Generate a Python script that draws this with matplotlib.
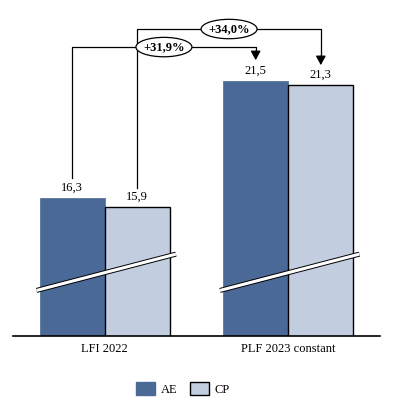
import matplotlib.pyplot as plt
from matplotlib.patches import Patch, Ellipse

# Data
categories = ["LFI 2022", "PLF 2023 constant"]
series_names = ["AE", "CP"]
ae_values = [16.3, 21.5]
cp_values = [15.9, 21.3]
growth_labels = ["+31,9%", "+34,0%"]

colors = {"AE": "#4a6996", "CP": "#c3cde0"}

plt.rcParams['font.family'] = ['Liberation Serif', 'DejaVu Serif']
fs = 9

fig = plt.figure(figsize=(3.95, 4.12), dpi=100)
W, H = 395, 412
ax = fig.add_axes([13 / W, (H - 336) / H, 367 / W, 316 / H])

width = 0.355
x = list(range(len(categories)))
x_ae = [xi - width / 2 for xi in x]
x_cp = [xi + width / 2 for xi in x]

ax.bar(x_ae, ae_values, width, color=colors["AE"], edgecolor=colors["AE"], linewidth=0.5, zorder=2)
ax.bar(x_cp, cp_values, width, color=colors["CP"], edgecolor="black", linewidth=1.0, zorder=2)

ax.set_xlim(-0.5, 1.5)
ax.set_ylim(10.18, 24.19)

# value labels
for xs, vals in ((x_ae, ae_values), (x_cp, cp_values)):
    for xi, v in zip(xs, vals):
        ax.annotate(f"{v:.1f}".replace(".", ","), (xi, v), xytext=(0, 3),
                    textcoords="offset points", ha="center", va="bottom", fontsize=fs)

# broken-axis stripes
for xi in x:
    xs = [xi - 0.372, xi + 0.388]
    ys = [12.20, 13.81]
    ax.plot(xs, ys, color="black", lw=3.6, solid_capstyle="butt", zorder=3, clip_on=False)
    ax.plot(xs, ys, color="white", lw=2.2, solid_capstyle="butt", zorder=4, clip_on=False)

# growth brackets
brackets = [
    (x_ae[0], x_ae[1], ae_values[0] + 0.88, 22.99, 22.41, growth_labels[0]),
    (x_cp[0], x_cp[1], cp_values[0] + 0.84, 23.79, 22.19, growth_labels[1]),
]
for x0, x1, y_start, y_top, y_tip, lab in brackets:
    ax.plot([x0, x0, x1, x1], [y_start, y_top, y_top, y_tip + 0.3],
            color="black", lw=0.9, zorder=5, clip_on=False)
    ax.annotate("", xy=(x1, y_tip), xytext=(x1, y_tip + 0.4),
                arrowprops=dict(arrowstyle="-|>,head_length=0.55,head_width=0.3",
                                color="black", lw=0.9, shrinkA=0, shrinkB=0), zorder=5)
    xm = (x0 + x1) / 2
    ax.add_patch(Ellipse((xm, y_top), 0.305, 0.86, facecolor="white",
                         edgecolor="black", lw=0.9, zorder=6, clip_on=False))
    ax.text(xm, y_top, lab, ha="center", va="center", fontsize=fs,
            fontweight="bold", zorder=7)

ax.set_xticks(x)
ax.set_xticklabels(categories, fontsize=fs)
ax.tick_params(axis="x", length=0, pad=5)
ax.set_yticks([])
for side in ("top", "right", "left"):
    ax.spines[side].set_visible(False)
ax.spines["bottom"].set_linewidth(1.2)

handles = [Patch(facecolor=colors["AE"], edgecolor=colors["AE"]),
           Patch(facecolor=colors["CP"], edgecolor="black", linewidth=1.0)]
fig.legend(handles, series_names, loc="center", bbox_to_anchor=(183 / W, 23 / H),
           ncol=2, frameon=False, fontsize=fs, handlelength=1.5, handleheight=1.15,
           columnspacing=1.0, handletextpad=0.5)

fig.savefig("out.png", dpi=100)
